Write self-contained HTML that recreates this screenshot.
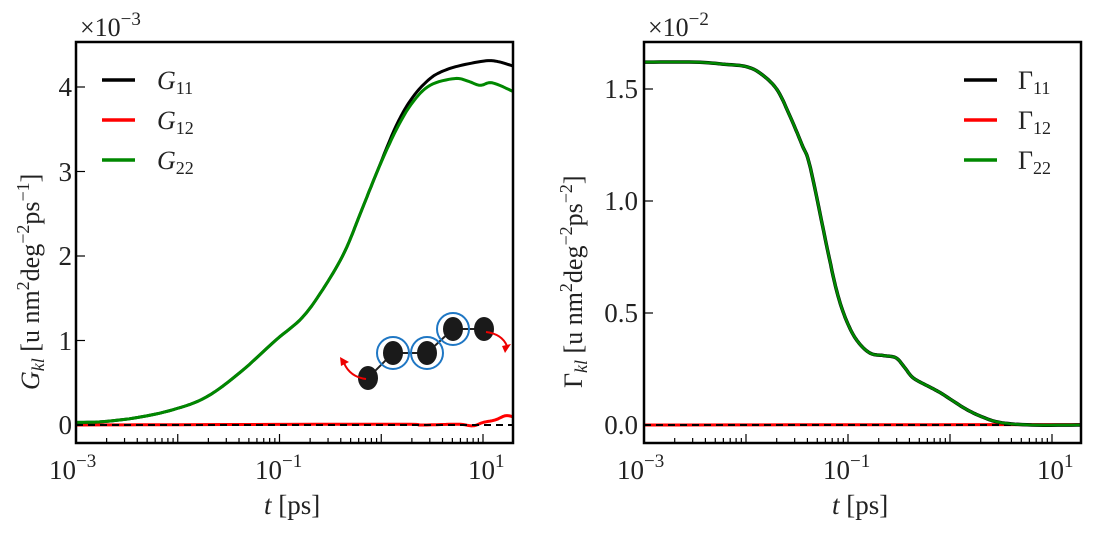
<!DOCTYPE html>
<html><head><meta charset="utf-8"><style>
body{margin:0;background:#fff}
svg{display:block;font-family:"Liberation Serif",serif}
</style></head><body>
<svg id="s" width="1096" height="537" viewBox="0 0 1096 537" xmlns="http://www.w3.org/2000/svg">
<g font-size="27" fill="#222">
<text x="80" y="36" font-size="26">×10<tspan dy="-11" font-size="19">−3</tspan></text>
<text x="72" y="434" text-anchor="end">0</text>
<text x="72" y="350" text-anchor="end">1</text>
<text x="72" y="265" text-anchor="end">2</text>
<text x="72" y="181" text-anchor="end">3</text>
<text x="72" y="96" text-anchor="end">4</text>
<text x="49" y="479">10<tspan dy="-12" font-size="19">−3</tspan></text>
<text x="255" y="479">10<tspan dy="-12" font-size="19">−1</tspan></text>
<text x="468" y="479">10<tspan dy="-12" font-size="19">1</tspan></text>
<text x="264" y="514"><tspan font-style="italic">t</tspan> [ps]</text>
<text transform="translate(39,390) rotate(-90)" font-size="26"><tspan font-style="italic">G</tspan><tspan font-style="italic" font-size="18" dy="5">kl</tspan><tspan dy="-5"> [u nm</tspan><tspan font-size="18" dy="-10">2</tspan><tspan dy="10">deg</tspan><tspan font-size="18" dy="-10">−2</tspan><tspan dy="10">ps</tspan><tspan font-size="18" dy="-10">−1</tspan><tspan dy="10">]</tspan></text>
<text x="648" y="36" font-size="26">×10<tspan dy="-11" font-size="19">−2</tspan></text>
<text x="638" y="434" text-anchor="end">0.0</text>
<text x="638" y="322" text-anchor="end">0.5</text>
<text x="638" y="210" text-anchor="end">1.0</text>
<text x="638" y="98" text-anchor="end">1.5</text>
<text x="617" y="479">10<tspan dy="-12" font-size="19">−3</tspan></text>
<text x="823" y="479">10<tspan dy="-12" font-size="19">−1</tspan></text>
<text x="1037" y="479">10<tspan dy="-12" font-size="19">1</tspan></text>
<text x="832" y="514"><tspan font-style="italic">t</tspan> [ps]</text>
<text transform="translate(582,388) rotate(-90)" font-size="26">Γ<tspan font-style="italic" font-size="18" dy="5">kl</tspan><tspan dy="-5"> [u nm</tspan><tspan font-size="18" dy="-10">2</tspan><tspan dy="10">deg</tspan><tspan font-size="18" dy="-10">−2</tspan><tspan dy="10">ps</tspan><tspan font-size="18" dy="-10">−2</tspan><tspan dy="10">]</tspan></text>
<g font-size="26">
<text x="157" y="89"><tspan font-style="italic">G</tspan><tspan font-size="18" dy="5">11</tspan></text>
<text x="157" y="129"><tspan font-style="italic">G</tspan><tspan font-size="18" dy="5">12</tspan></text>
<text x="157" y="169"><tspan font-style="italic">G</tspan><tspan font-size="18" dy="5">22</tspan></text>
<text x="1018" y="89">Γ<tspan font-size="18" dy="5">11</tspan></text>
<text x="1018" y="129">Γ<tspan font-size="18" dy="5">12</tspan></text>
<text x="1018" y="169">Γ<tspan font-size="18" dy="5">22</tspan></text>
</g>
</g>
<g stroke-width="3.5">
<line x1="102" y1="80" x2="135" y2="80" stroke="#000"/>
<line x1="102" y1="120" x2="135" y2="120" stroke="#f00"/>
<line x1="102" y1="160" x2="135" y2="160" stroke="#080"/>
<line x1="964" y1="80" x2="997" y2="80" stroke="#000"/>
<line x1="964" y1="120" x2="997" y2="120" stroke="#f00"/>
<line x1="964" y1="160" x2="997" y2="160" stroke="#080"/>
</g>
<g id="plots"></g>
<g>
<g stroke="#222" stroke-width="2"><polyline points="368,378 393,353 427,353 453,329 484,329" fill="none"/></g>
<g fill="none" stroke="#1f77c4" stroke-width="2"><circle cx="393" cy="353" r="16"/><circle cx="427" cy="353" r="16"/><circle cx="453" cy="329" r="16"/></g>
<g fill="#1a1a1a"><ellipse cx="368" cy="378" rx="10" ry="12"/><ellipse cx="393" cy="353" rx="10" ry="12"/><ellipse cx="427" cy="353" rx="10" ry="12"/><ellipse cx="453" cy="329" rx="10" ry="12"/><ellipse cx="484" cy="329" rx="10" ry="12"/></g>
<g fill="none" stroke="#e00" stroke-width="2"><path d="M366,379 Q350,377 344,363"/><path d="M486,332 Q502,334 507,346"/></g>
<g fill="#e00"><polygon points="340,357 349,362 341,366"/><polygon points="505,353 511,344 502,346"/></g>
</g>
</svg>
<script>
const NS="http://www.w3.org/2000/svg",G=document.getElementById("plots");
function el(t,a){const e=document.createElementNS(NS,t);for(const k in a)e.setAttribute(k,a[k]);G.appendChild(e);return e}
function cr(pts,n){const o=[];for(let i=0;i<pts.length-1;i++){const p0=pts[Math.max(0,i-1)],p1=pts[i],p2=pts[i+1],p3=pts[Math.min(pts.length-1,i+2)];for(let j=0;j<n;j++){const t=j/n,t2=t*t,t3=t2*t;o.push([0.5*(2*p1[0]+(-p0[0]+p2[0])*t+(2*p0[0]-5*p1[0]+4*p2[0]-p3[0])*t2+(-p0[0]+3*p1[0]-3*p2[0]+p3[0])*t3),0.5*(2*p1[1]+(-p0[1]+p2[1])*t+(2*p0[1]-5*p1[1]+4*p2[1]-p3[1])*t2+(-p0[1]+3*p1[1]-3*p2[1]+p3[1])*t3)])}}o.push(pts[pts.length-1]);return o}
function panel(x0,x1,y0,y1,dx,ymap,series,yt){
 const X=l=>x0+(l+3)*dx;
 for(let d=-3;d<2;d++)for(let m=1;m<10;m++){const l=d+Math.log10(m),x=X(l);if(x>x1)continue;el("line",{x1:x,x2:x,y1:y1,y2:y1-(m==1?9:5),stroke:"#000","stroke-width":1.2})}
 for(const v of yt){const y=ymap(v);el("line",{x1:x0,x2:x0+9,y1:y,y2:y,stroke:"#000","stroke-width":1.2})}
 series.forEach((s,i)=>{const p=cr(s.d.map(q=>[X(q[0]),ymap(q[1])]),8);el("polyline",{points:p.map(q=>q[0].toFixed(1)+","+q[1].toFixed(1)).join(" "),fill:"none",stroke:s.c,"stroke-width":s.w||3,"stroke-linejoin":"round"});
  if(i==0)el("line",{x1:x0,x2:x1,y1:ymap(0),y2:ymap(0),stroke:"#000","stroke-width":2,"stroke-dasharray":"7,5"});});
 el("rect",{x:x0,y:y0,width:x1-x0,height:y1-y0,fill:"none",stroke:"#000","stroke-width":2.5});
}
const low=[[-3,0.03],[-2.73,0.04],[-2.39,0.09],[-2.05,0.18],[-1.72,0.33],[-1.38,0.63],[-1.04,1.0],[-0.77,1.28],[-0.55,1.65],[-0.36,2.05],[-0.2,2.52],[-0.04,3.0]];
const g22=low.concat([[0.15,3.5],[0.31,3.82],[0.48,4.02],[0.72,4.1],[0.85,4.07],[0.97,4.02],[1.09,4.05],[1.29,3.95]]);
const g11=low.concat([[0.15,3.55],[0.31,3.88],[0.48,4.1],[0.63,4.2],[0.8,4.26],[1.03,4.31],[1.15,4.3],[1.29,4.25]]);
const g12=[[-3,0],[0,0.01],[0.4,0.0],[0.75,0.01],[0.9,-0.01],[1.0,0.03],[1.12,0.06],[1.22,0.11],[1.29,0.1]];
panel(76,513,42,443,101.75,v=>425-84.5*v,[{d:g12,c:"#f00"},{d:g11,c:"#000"},{d:g22,c:"#080"}],[0,1,2,3,4]);
const gm=[[-3,1.62],[-2.5,1.62],[-2.2,1.61],[-2,1.6],[-1.86,1.57],[-1.7,1.5],[-1.58,1.39],[-1.45,1.25],[-1.37,1.15],[-1.2,0.78],[-1.1,0.58],[-1,0.45],[-0.9,0.37],[-0.78,0.32],[-0.65,0.31],[-0.53,0.30],[-0.45,0.26],[-0.36,0.21],[-0.2,0.17],[-0.08,0.14],[0.16,0.07],[0.35,0.03],[0.51,0.01],[0.8,0.0],[1.28,0.0]];
panel(644,1081,42,443,102,v=>425-224*v,[{d:[[-3,0],[1.28,0.002]],c:"#f00"},{d:gm,c:"#000",w:3.5},{d:gm,c:"#080",w:2.6}],[0,0.5,1,1.5]);
</script>
</body></html>
